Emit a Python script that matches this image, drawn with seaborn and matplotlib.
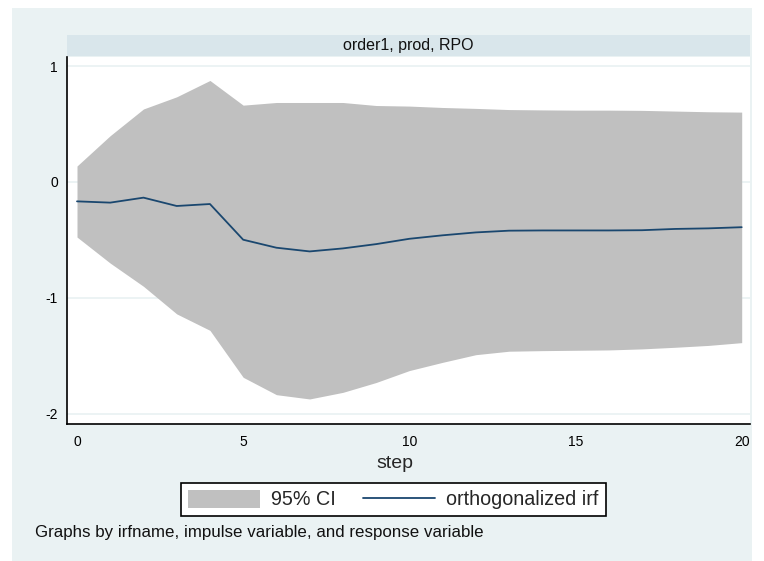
import matplotlib
matplotlib.use("Agg")
import matplotlib.pyplot as plt
import seaborn as sns
import pandas as pd
from matplotlib.patches import Rectangle, Patch
from matplotlib.lines import Line2D

# ---- data ----
steps = list(range(21))
irf = [-0.167, -0.178, -0.135, -0.207, -0.19, -0.498, -0.567, -0.599, -0.573, -0.536,
       -0.49, -0.46, -0.435, -0.42, -0.418, -0.418, -0.418, -0.416, -0.405, -0.40, -0.39]
ci_upper = [0.138, 0.40, 0.63, 0.735, 0.876, 0.663, 0.686, 0.686, 0.686, 0.66,
            0.655, 0.643, 0.635, 0.625, 0.622, 0.62, 0.62, 0.618, 0.612, 0.606, 0.603]
ci_lower = [-0.475, -0.70, -0.90, -1.138, -1.28, -1.685, -1.835, -1.872, -1.815, -1.73,
            -1.627, -1.556, -1.49, -1.46, -1.455, -1.452, -1.449, -1.44, -1.426, -1.41, -1.386]
x_ticks = [0, 5, 10, 15, 20]
y_ticks = [-2, -1, 0, 1]
panel_title = "order1, prod, RPO"
x_label = "step"
legend_labels = ["95% CI", "orthogonalized irf"]
note = "Graphs by irfname, impulse variable, and response variable"

df = pd.DataFrame({"step": steps, "irf": irf, "lo": ci_lower, "hi": ci_upper})

sns.set_style("white")
plt.rcParams['font.family'] = ['Liberation Sans', 'DejaVu Sans']

BG = '#EAF2F3'
STRIP = '#D9E6EB'
FILL = '#C0C0C0'
LINE = '#1A476F'

W, H = 764, 561
fig = plt.figure(figsize=(W / 100, H / 100), dpi=100, facecolor='white')

# outer graph region
fig.patches.append(Rectangle((12 / W, 1 - 561 / H), (752 - 12) / W, (561 - 8) / H,
                             transform=fig.transFigure, facecolor=BG,
                             edgecolor='none', zorder=-10))

# strip
ax_s = fig.add_axes([67 / W, 1 - 56 / H, (750 - 67) / W, 21 / H])
ax_s.set_facecolor(STRIP)
ax_s.set_xticks([]); ax_s.set_yticks([])
for s in ax_s.spines.values():
    s.set_visible(False)
ax_s.text(0.5, 0.5, panel_title, ha='center', va='center', fontsize=11.5,
          transform=ax_s.transAxes, color='#111111')

# main axes
ax = fig.add_axes([67 / W, 1 - 424 / H, (750 - 67) / W, (424 - 57) / H])
ax.set_facecolor('white')

ax.fill_between(df["step"], df["lo"], df["hi"], color=FILL, linewidth=0, zorder=2)
sns.lineplot(data=df, x="step", y="irf", color=LINE, linewidth=1.3, ax=ax, zorder=3)

ax.set_xlim(-0.301, 20.25)
ax.set_ylim(-2.088, 1.0785)
ax.set_xticks(x_ticks)
ax.set_yticks(y_ticks)
ax.set_xticklabels([str(v) for v in x_ticks])
ax.set_yticklabels([str(v) for v in y_ticks])
ax.yaxis.grid(True, color=BG, linewidth=1.3, zorder=1)
ax.xaxis.grid(False)
ax.set_axisbelow(True)

for side in ['top', 'right']:
    ax.spines[side].set_visible(False)
for side in ['left', 'bottom']:
    ax.spines[side].set_color('black')
    ax.spines[side].set_linewidth(1.2)

ax.tick_params(axis='both', direction='out', length=3, width=1, color='black',
               labelsize=10, labelcolor='black')
ax.tick_params(axis='x', pad=5)
ax.tick_params(axis='y', pad=3.5)
ax.set_ylabel('')
ax.set_xlabel(x_label, fontsize=14, va='center')
ax.xaxis.set_label_coords((395 - 67) / (750 - 67), -(463 - 424) / (424 - 57))

handles = [Patch(facecolor=FILL, edgecolor='none'),
           Line2D([0], [0], color=LINE, linewidth=1.3)]
leg = fig.legend(handles, legend_labels, loc='center',
                 bbox_to_anchor=(393.5 / W, 1 - 499.7 / H),
                 bbox_transform=fig.transFigure, ncol=2, fontsize=14.2,
                 frameon=True, fancybox=False, edgecolor='black',
                 facecolor='white', framealpha=1, handlelength=3.65,
                 handleheight=1.0, handletextpad=0.55, columnspacing=1.4,
                 borderpad=0.35)
leg.get_frame().set_linewidth(1.2)

fig.text(35 / W, 1 - 533 / H, note, ha='left', va='center', fontsize=12.2,
         color='#111111')

fig.savefig('out.png', dpi=100, facecolor='white')
